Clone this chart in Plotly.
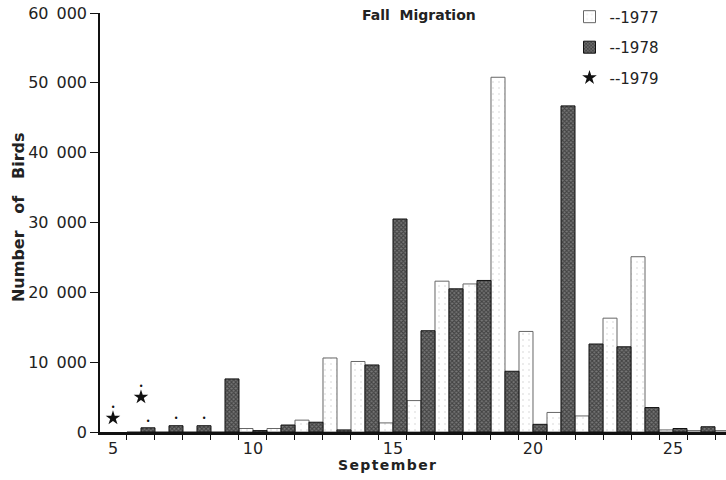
import plotly.graph_objects as go

days = list(range(5, 28))
# Number of birds per September day
birds_1977 = [None, 0, 0, 0, 0, 500, 500, 1700, 10600, 10100, 1300, 4500, 21600, 21200, 50800, 14400, 2800, 2300, 16300, 25100, 300, 200, 200]
birds_1978 = [None, 600, 900, 900, 7600, 200, 1000, 1400, 300, 9600, 30500, 14500, 20500, 21700, 8700, 1100, 46700, 12600, 12200, 3500, 500, 750, 400]
days_1979 = [5, 6]
birds_1979 = [2000, 5000]
# points marked with a small dot above them
dot_days_1978 = [6, 7, 8]
dot_vals_1978 = [600, 900, 900]

y_ticks = [0, 10000, 20000, 30000, 40000, 50000, 60000]
y_tick_text = ["0", "10\u2002000", "20\u2002000", "30\u2002000", "40\u2002000", "50\u2002000", "60\u2002000"]
x_ticks = [5, 10, 15, 20, 25]

FONT = "DejaVu Sans"

fig = go.Figure()
fig.add_trace(go.Bar(
    x=days, y=birds_1977, width=0.5, offset=-0.5, name="--1977",
    legendgroup="a",
    marker=dict(color="white", line=dict(color="#666", width=1),
                pattern=dict(shape=".", fgcolor="#d0d0d0", bgcolor="white", size=6, solidity=0.1)),
))
fig.add_trace(go.Bar(
    x=days, y=birds_1978, width=0.5, offset=0, name="--1978",
    legendgroup="b",
    marker=dict(color="#333", line=dict(color="#111", width=1),
                pattern=dict(shape="x", fgcolor="#111", bgcolor="#777", size=3, solidity=0.6)),
))
fig.add_trace(go.Scatter(
    x=days_1979, y=birds_1979, mode="markers", name="--1979", legendgroup="c",
    marker=dict(symbol="star", size=11, color="#111"),
))
fig.add_trace(go.Scatter(
    x=days_1979, y=birds_1979, mode="markers+text", text=["\u2022"] * len(days_1979),
    textposition="top center", textfont=dict(size=8, color="#111"),
    marker=dict(size=8, opacity=0), showlegend=False, hoverinfo="skip",
))
fig.add_trace(go.Scatter(
    x=[d + 0.25 for d in dot_days_1978], y=dot_vals_1978, mode="markers+text",
    text=["\u2022"] * len(dot_days_1978),
    textposition="top center", textfont=dict(size=8, color="#111"),
    marker=dict(size=2, opacity=0), showlegend=False, hoverinfo="skip",
))

fig.update_layout(
    width=726, height=480,
    margin=dict(l=100, r=0, t=13, b=48, autoexpand=False),
    paper_bgcolor="white", plot_bgcolor="white",
    font=dict(family=FONT, size=15, color="#222"),
    barmode="overlay",
    showlegend=True,
    legend=dict(x=0.75, y=1.03, xanchor="left", yanchor="top",
                bgcolor="rgba(0,0,0,0)", font=dict(size=15, family=FONT),
                tracegroupgap=8, itemwidth=30),
    annotations=[
        dict(text="<b>Fall  Migration</b>", x=0.51, y=0.995, xref="paper", yref="paper",
             xanchor="center", yanchor="middle", showarrow=False,
             font=dict(size=14, family=FONT, color="#222")),
        dict(text="<b>S\u200ae\u200ap\u200at\u200ae\u200am\u200ab\u200ae\u200ar</b>", x=0.459, y=-0.079,
             xref="paper", yref="paper", xanchor="center", yanchor="middle", showarrow=False,
             font=dict(size=14, family=FONT, color="#222")),
        dict(text="<b>Number   of   Birds</b>", x=-0.131, y=0.513, xref="paper", yref="paper",
             xanchor="center", yanchor="middle", showarrow=False, textangle=-90,
             font=dict(size=16, family=FONT, color="#222")),
    ],
)
fig.update_xaxes(
    range=[4.536, 26.893], tickvals=x_ticks, ticks="", showgrid=False, zeroline=False,
    showline=True, linecolor="#111", linewidth=2.5,
    minor=dict(tickmode="linear", tick0=5.5, dtick=1, ticks="outside", ticklen=5,
               tickcolor="#111", showgrid=False),
    tickfont=dict(size=16),
)
fig.update_yaxes(
    range=[0, 60000], tickvals=y_ticks, ticktext=y_tick_text, ticks="outside", ticklen=8,
    tickcolor="#111", showgrid=False, zeroline=False, showline=True, linecolor="#111", linewidth=1.5,
    tickfont=dict(size=16),
)

fig.write_html("out.html", config={"displayModeBar": False},
               post_script="document.body.style.margin='0';document.body.style.overflow='hidden';")
